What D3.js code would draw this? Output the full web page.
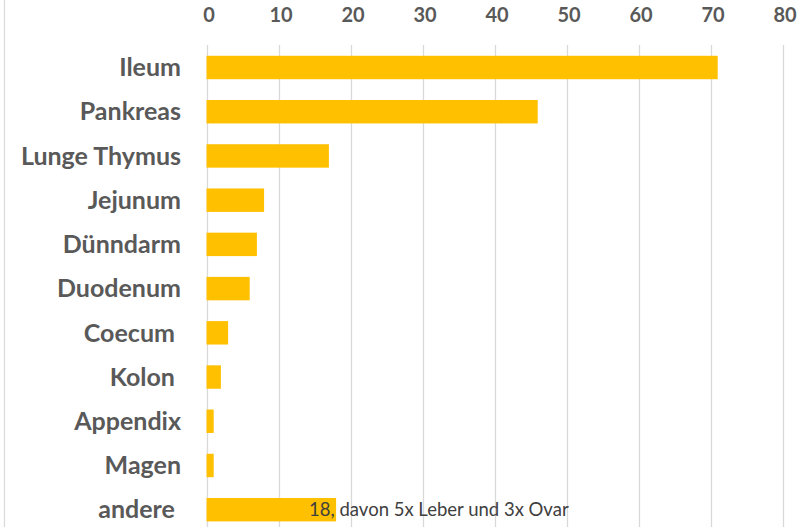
<!DOCTYPE html>
<html lang="de">
	<head>
		<meta charset="utf-8">
		<title>Lokalisation</title>
		<script src="https://cdn.jsdelivr.net/npm/d3@7"></script>
		<style type="text/css">
			body { margin: 0; background: #fff; }
			text { white-space: pre; }
		</style>
	</head>
	<body>
		<script type="text/javascript">

			//Data
			var categories = ["Ileum", "Pankreas", "Lunge Thymus", "Jejunum", "Dünndarm", "Duodenum", "Coecum ", "Kolon ", "Appendix", "Magen", "andere "];
			var values = [71, 46, 17, 8, 7, 6, 3, 2, 1, 1, 18];
			var tickValues = [0, 10, 20, 30, 40, 50, 60, 70, 80];
			var note = "18, davon 5x Leber und 3x Ovar";

			//Width and height
			var w = 811;
			var h = 527;

			var svg = d3.select("body")
						.append("svg")
						.attr("width", w)
						.attr("height", h);

			var x = d3.scaleLinear()
					  .domain([0, 80])
					  .range([206.5, 782.5]);

			var y = d3.scaleBand()
					  .domain(categories)
					  .range([45.4, 531.8])
					  .paddingInner(0.47)
					  .paddingOuter(0.235);

			//Chart border on the left
			svg.append("line")
				.attr("x1", 4.5).attr("x2", 4.5)
				.attr("y1", 0).attr("y2", h)
				.attr("stroke", "#d9d9d9")
				.attr("stroke-width", 1.2);

			//Gridlines
			svg.selectAll("line.grid")
				.data(tickValues)
				.enter()
				.append("line")
				.attr("class", "grid")
				.attr("x1", function(d) { return Math.round(x(d)) + 0.5; })
				.attr("x2", function(d) { return Math.round(x(d)) + 0.5; })
				.attr("y1", 45)
				.attr("y2", h)
				.attr("stroke", "#d9d9d9")
				.attr("stroke-width", 1.3);

			//Top axis labels
			var xAxis = d3.axisTop(x)
						  .tickValues(tickValues)
						  .tickSize(0)
						  .tickPadding(0);

			var gx = svg.append("g")
						.attr("transform", "translate(2,22)")
						.call(xAxis);
			gx.select(".domain").remove();
			gx.selectAll("text")
				.attr("font-family", "Lato, sans-serif")
				.attr("font-weight", "bold")
				.attr("font-size", "20px")
				.attr("fill", "#595959");

			//Bars
			svg.selectAll("rect.bar")
				.data(values)
				.enter()
				.append("rect")
				.attr("class", "bar")
				.attr("x", x(0))
				.attr("y", function(d, i) { return y(categories[i]); })
				.attr("width", function(d) { return x(d) - x(0); })
				.attr("height", y.bandwidth())
				.attr("fill", "#ffc000");

			//Category labels
			svg.selectAll("text.cat")
				.data(categories)
				.enter()
				.append("text")
				.attr("class", "cat")
				.text(function(d) { return d; })
				.attr("x", 181)
				.attr("y", function(d) { return y(d) + y.bandwidth() / 2; })
				.attr("dy", "0.35em")
				.attr("text-anchor", "end")
				.attr("font-family", "Lato, sans-serif")
				.attr("font-weight", "bold")
				.attr("font-size", "25px")
				.attr("fill", "#595959");

			//Note on the last bar
			var last = categories.length - 1;
			svg.append("text")
				.text(note)
				.attr("x", x(values[last]) - 27)
				.attr("y", y(categories[last]) + y.bandwidth() / 2)
				.attr("dy", "0.36em")
				.attr("font-family", "Lato, sans-serif")
				.attr("font-size", "18.5px")
				.attr("fill", "#404040");

		</script>
	</body>
</html>
